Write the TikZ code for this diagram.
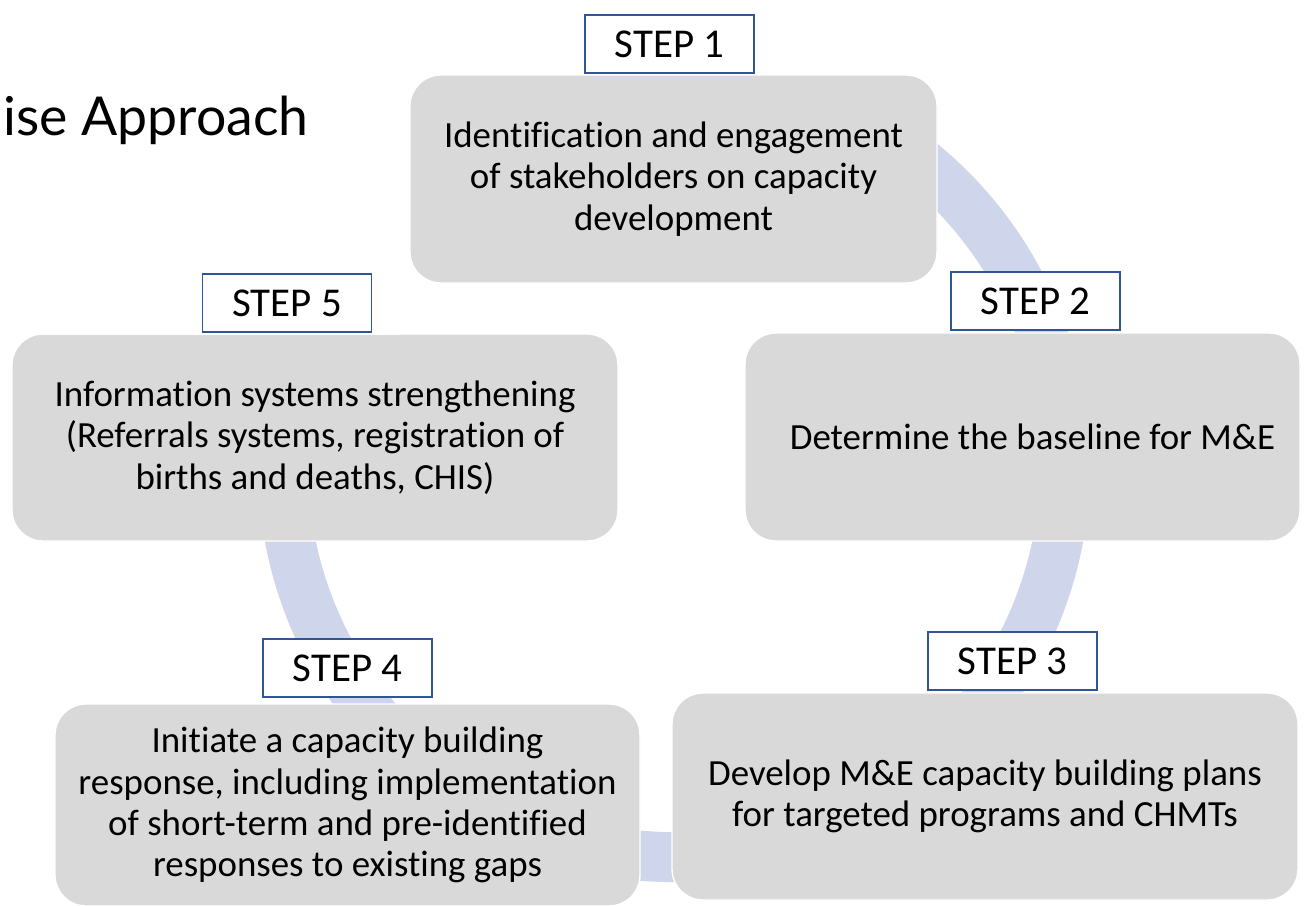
\documentclass[tikz,border=0pt]{standalone}
\usepackage{fontspec}
\setmainfont{Carlito}[Ligatures=NoCommon]
\newfontfamily\titlefont{Lato}
\usepackage{tikz}
\usepackage{xcolor}
\usetikzlibrary{positioning}

\definecolor{ringblue}{RGB}{207,213,234}
\definecolor{boxgray}{RGB}{217,217,217}
\definecolor{labelblue}{RGB}{47,85,151}

\begin{document}
\begin{tikzpicture}[
stepbox/.style={draw=white,line width=0.8pt,fill=boxgray,rounded corners=0.62cm,align=center,outer sep=0pt,font=\fontsize{21}{23.5}\selectfont},
steplabel/.style={draw=labelblue,line width=1.1pt,fill=white,minimum width=3.38cm,minimum height=1.16cm,inner sep=0pt,outer sep=0pt,font=\fontsize{23.3}{28}\selectfont},
ring/.style={draw=ringblue,line width=1cm}
]
\useasboundingbox (0,0) rectangle (26.08,-18.12);

% the cycle ring, mostly hidden behind the boxes
\coordinate (hub) at (13.48,-9.32);
\draw[ring] (hub) ++(65:7.82) arc[start angle=65,end angle=-210,radius=7.82];

\node[stepbox,minimum width=10.54cm,minimum height=4.16cm] (ident) at (13.47,-3.58) {Identification and engagement\\of stakeholders on capacity\\development};
\node[stepbox,minimum width=11.1cm,minimum height=4.16cm] (baseline) at (20.45,-8.74) {\hspace*{0.4cm}Determine the baseline for M\&E};
\node[stepbox,minimum width=12.52cm,minimum height=4.14cm] (plans) at (19.70,-15.93) {Develop M\&E capacity building plans\\for targeted programs and CHMTs};
\node[stepbox,minimum width=11.7cm,minimum height=4.04cm] (response) at (6.95,-16.10) {Initiate a capacity building\\response, including implementation\\of short-term and pre-identified\\responses to existing gaps};
\node[stepbox,minimum width=12.12cm,minimum height=4.14cm] (infosys) at (6.30,-8.75) {Information systems strengthening\\(Referrals systems, registration of\\births and deaths, CHIS)};

% white title area over the top left of the ring
\fill[white] (0,0) rectangle (8.0,-6.70);
\node[font=\titlefont\fontsize{30.5}{36}\selectfont,anchor=base west,inner sep=0pt] (title) at (0.06,-2.70) {ise Approach};

% step tags
\node[steplabel,above=0.04cm of ident,xshift=-0.08cm] (tag1) {STEP 1};
\node[steplabel,above=0.06cm of baseline,xshift=0.26cm] (tag2) {STEP 2};
\node[steplabel,above=0.06cm of plans,xshift=0.55cm] (tag3) {STEP 3};
\node[steplabel,above=0.14cm of response] (tag4) {STEP 4};
\node[steplabel,above=0.04cm of infosys,xshift=-0.56cm] (tag5) {STEP 5};
\end{tikzpicture}
\end{document}
